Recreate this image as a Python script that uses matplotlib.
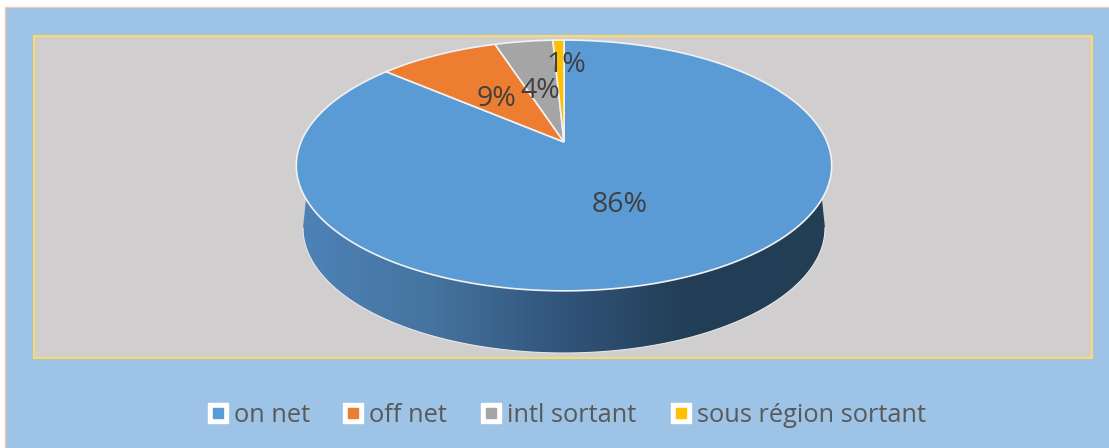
import numpy as np
import matplotlib
matplotlib.use('Agg')
import matplotlib.pyplot as plt
from matplotlib.patches import Polygon, Rectangle
from matplotlib.colors import LinearSegmentedColormap

plt.rcParams['font.family'] = ['Open Sans', 'DejaVu Sans']

categories = ['on net', 'off net', 'intl sortant', 'sous région sortant']
values = [86.3, 8.7, 4.2, 0.8]
pct_labels = ['86%', '9%', '4%', '1%']
colors = ['#5B9BD5', '#ED7D31', '#A5A5A5', '#FFC000']

W, H = 1109, 448
APEX_X, APEX_Y = 564, 142
# tilt of the disc: perspective constants
A_Y, B_Y, C_X = 121.0, 0.187, 263.0


def project(t):
	# t clockwise from 12 o'clock, goes to pixel coords
	x = np.sin(t)
	y = np.cos(t)
	d = 1 + B_Y * y
	return APEX_X + C_X * x / d, APEX_Y - A_Y * y / d


fig = plt.figure(figsize=(W / 100, H / 100), dpi=100, facecolor='white')
ax = fig.add_axes([0, 0, 1, 1])
ax.set_xlim(0, W)
ax.set_ylim(H, 0)
ax.axis('off')

# chart background and plot area
ax.add_patch(Rectangle((4.5, 7.5), W, H, fc='#9DC3E6', ec='#F4C7A8', lw=1, zorder=1))
ax.add_patch(Rectangle((33.5, 36.5), 1058, 322, fc='#D0CECE', ec='#FFD966', lw=1.5, zorder=2))

# side of the disc, gradient clipped to the rim shape
tt = np.linspace(np.pi * 0.44, np.pi * 1.56, 300)
tx, ty = project(tt)
s = np.linspace(np.pi / 2, -np.pi / 2, 300)
bx = 564 + 261 * np.sin(s)
by = 228 + 125 * np.cos(s)
# rim: top edge left to right, then back along the lower ellipse
rim_x = np.r_[tx[::-1], bx]
rim_y = np.r_[ty[::-1], by]
rim = Polygon(np.c_[rim_x, rim_y], closed=True, fc='none', ec='none', zorder=3)
ax.add_patch(rim)
cmap = LinearSegmentedColormap.from_list('rim', [(0, '#4E82B8'), (0.25, '#45749F'), (0.5, '#31547A'),
												 (0.72, '#233F58'), (1, '#223E55')])
grad = np.linspace(0, 1, 256).reshape(1, -1)
im = ax.imshow(grad, cmap=cmap, extent=(296, 832, 360, 150), aspect='auto', zorder=3)
im.set_clip_path(rim)
ax.set_xlim(0, W)
ax.set_ylim(H, 0)
ax.plot(bx, by, color='#E8E8E8', lw=0.8, zorder=4)

# top of the disc
start = 0.0
for val, col in zip(values, colors):
	sweep = val / sum(values) * 2 * np.pi
	t = np.linspace(start, start + sweep, max(int(val * 6), 8))
	x, y = project(t)
	pts = np.c_[np.r_[APEX_X, x], np.r_[APEX_Y, y]]
	ax.add_patch(Polygon(pts, closed=True, fc=col, ec='#F2F2F2', lw=1.2, zorder=5, joinstyle='miter'))
	start += sweep

# percent labels
label_x = [620, 497, 540, 566]
label_y = [205, 99, 91, 65]
for txt, lx, ly in zip(pct_labels, label_x, label_y):
	ax.text(lx, ly, txt, fontsize=20.5, color='#404040', ha='center', va='center', zorder=6)

# legend
leg_x = [218, 353, 491, 681]
for name, col, lx in zip(categories, colors, leg_x):
	ax.plot([lx], [413], marker='s', ms=14.5, mfc='white', mec='white', zorder=6)
	ax.plot([lx], [413], marker='s', ms=7.7, mfc=col, mec=col, zorder=7)
	ax.text(lx + 16, 415, name, fontsize=18.3, color='#595959', ha='left', va='center', zorder=6)

fig.savefig('out.png', dpi=100)
